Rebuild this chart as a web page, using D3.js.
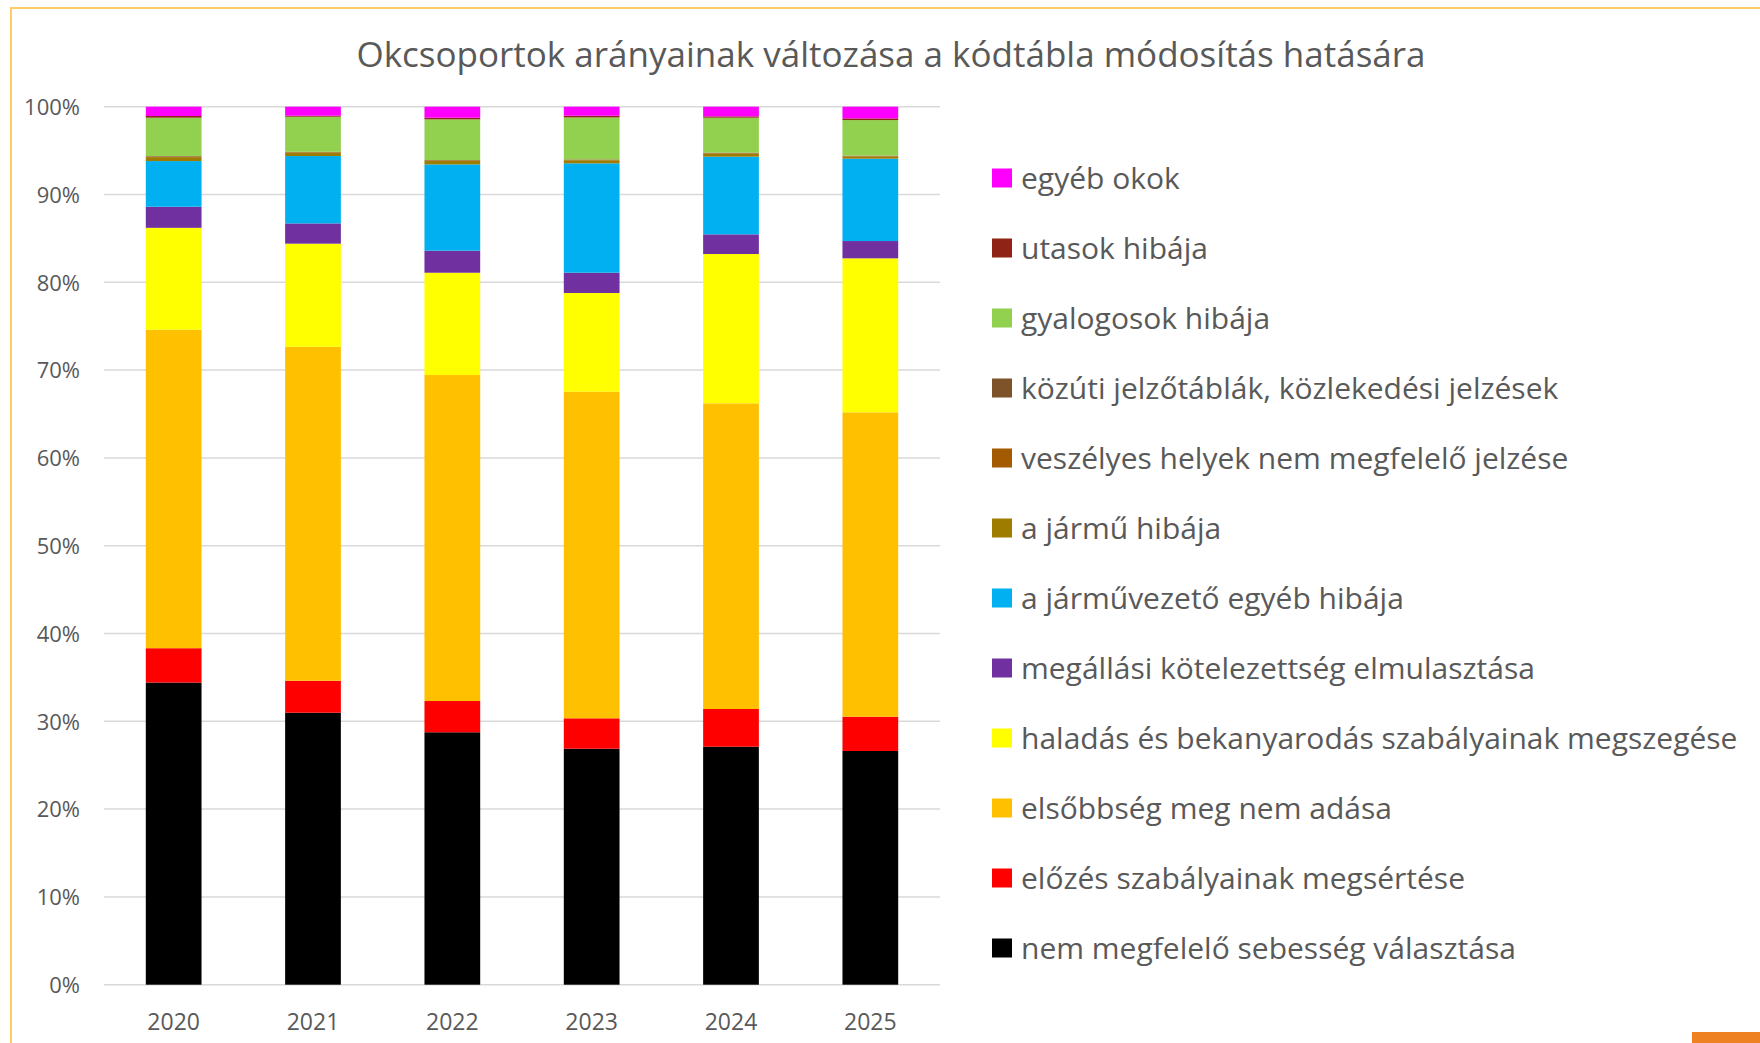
<!DOCTYPE html>
<html lang="hu">
<head>
<meta charset="UTF-8">
<title>Okcsoportok</title>
<script src="https://cdn.jsdelivr.net/npm/d3@7"></script>
<style>
  body { margin: 0; background: #fff; }
  text { font-family: "Open Sans", "Noto Sans", sans-serif; fill: #595959; }
</style>
</head>
<body>
<svg width="1760" height="1043"></svg>
<script>
// years and series values (percent of year total), bottom of stack first
const years = ["2020", "2021", "2022", "2023", "2024", "2025"];
const seriesNames = [
  "nem megfelelő sebesség választása",
  "előzés szabályainak megsértése",
  "elsőbbség meg nem adása",
  "haladás és bekanyarodás szabályainak megszegése",
  "megállási kötelezettség elmulasztása",
  "a járművezető egyéb hibája",
  "a jármű hibája",
  "veszélyes helyek nem megfelelő jelzése",
  "közúti jelzőtáblák, közlekedési jelzések",
  "gyalogosok hibája",
  "utasok hibája",
  "egyéb okok"
];
const sebesseg   = [34.40, 30.98, 28.75, 26.88, 27.11, 26.62];
const elozes     = [3.91, 3.64, 3.56, 3.46, 4.29, 3.90];
const elsobbseg  = [36.26, 38.04, 37.13, 37.20, 34.82, 34.67];
const haladas    = [11.60, 11.74, 11.65, 11.24, 17.00, 17.54];
const megallasi  = [2.40, 2.31, 2.51, 2.31, 2.24, 1.97];
const jarmuvezeto = [5.20, 7.67, 9.83, 12.46, 8.85, 9.38];
const jarmu      = [0.45, 0.38, 0.40, 0.35, 0.33, 0.24];
const veszelyes  = [0.07, 0.06, 0.06, 0.06, 0.07, 0.06];
const kozuti     = [0.05, 0.05, 0.04, 0.04, 0.05, 0.04];
const gyalogos   = [4.37, 3.99, 4.63, 4.78, 3.99, 4.06];
const utasok     = [0.19, 0.11, 0.19, 0.19, 0.15, 0.19];
const egyeb      = [1.06, 1.03, 1.25, 1.03, 1.10, 1.33];
const yTicks = [0, 0.1, 0.2, 0.3, 0.4, 0.5, 0.6, 0.7, 0.8, 0.9, 1];

const seriesValues = [sebesseg, elozes, elsobbseg, haladas, megallasi, jarmuvezeto,
  jarmu, veszelyes, kozuti, gyalogos, utasok, egyeb];
const colors = ["#000000", "#FF0000", "#FFC000", "#FFFF00", "#7030A0", "#00B0F0",
  "#9E7C00", "#A35A00", "#7F5329", "#92D050", "#8F2416", "#FF00FF"];

const rows = years.map((y, i) => {
  const r = {year: y};
  seriesNames.forEach((n, j) => r[n] = seriesValues[j][i]);
  return r;
});

const svg = d3.select("svg");

// frame
svg.append("rect").attr("x", 11).attr("y", 8).attr("width", 1800).attr("height", 1100)
  .attr("fill", "none").attr("stroke", "#FFCC66").attr("stroke-width", 2);
svg.append("rect").attr("x", 1692).attr("y", 1032).attr("width", 68).attr("height", 11)
  .attr("fill", "#EE8222");

const x = d3.scaleBand().domain(years).range([104, 940]).paddingInner(0.6).paddingOuter(0.3);
const y = d3.scaleLinear().domain([0, 1]).range([984.7, 106.7]);

// gridlines
svg.append("g").selectAll("line").data(yTicks).join("line")
  .attr("x1", 104).attr("x2", 940)
  .attr("y1", d => y(d)).attr("y2", d => y(d))
  .attr("stroke", "#D9D9D9").attr("stroke-width", 1.5);

const stack = d3.stack().keys(seriesNames).offset(d3.stackOffsetExpand);
const layers = stack(rows);

svg.append("g").selectAll("g").data(layers).join("g")
  .attr("fill", (d, i) => colors[i])
  .selectAll("rect").data(d => d).join("rect")
  .attr("x", d => x(d.data.year))
  .attr("width", x.bandwidth())
  .attr("y", d => y(d[1]))
  .attr("height", d => y(d[0]) - y(d[1]));

// y axis
const yAxis = svg.append("g").attr("transform", "translate(80,0)")
  .call(d3.axisLeft(y).tickValues(yTicks).tickFormat(d3.format(".0%")).tickSize(0).tickPadding(0));
yAxis.select(".domain").remove();
yAxis.selectAll("text").attr("font-size", 22).attr("fill", "#595959")
  .attr("font-family", "Open Sans").attr("dy", "0.35em");

// x axis
const xAxis = svg.append("g").attr("transform", "translate(0,1030)")
  .call(d3.axisBottom(x).tickSize(0).tickPadding(0));
xAxis.select(".domain").remove();
xAxis.selectAll("text").attr("font-size", 23).attr("fill", "#595959")
  .attr("font-family", "Open Sans").attr("dy", 0);

// title
svg.append("text").attr("x", 891).attr("y", 67).attr("text-anchor", "middle")
  .attr("font-size", 35).text("Okcsoportok arányainak változása a kódtábla módosítás hatására");

// legend (top: last series)
const legendItems = seriesNames.map((n, i) => ({name: n, color: colors[i]})).reverse();
const lg = svg.append("g").selectAll("g").data(legendItems).join("g")
  .attr("transform", (d, i) => `translate(992,${178 + i * 70})`);
lg.append("rect").attr("x", 0).attr("y", -9.5).attr("width", 20).attr("height", 19)
  .attr("fill", d => d.color);
lg.append("text").attr("x", 29).attr("y", 11).attr("font-size", 30).text(d => d.name);
</script>
</body>
</html>
